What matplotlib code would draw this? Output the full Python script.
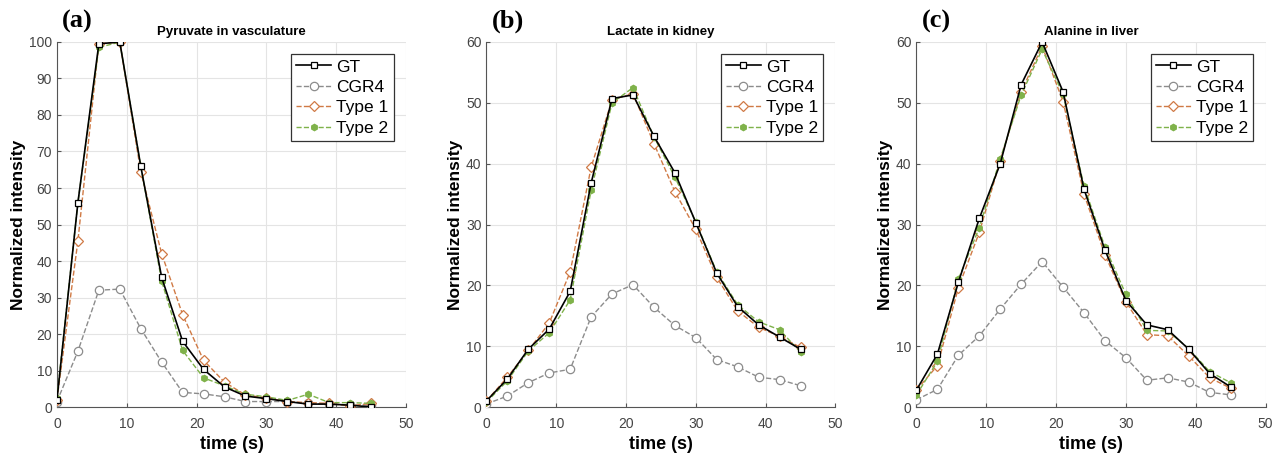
import numpy as np
import matplotlib
matplotlib.use("Agg")
import matplotlib.pyplot as plt

plt.rcParams['font.family'] = ['Liberation Sans', 'DejaVu Sans']

# time axis (s)
time_s = [0, 3, 6, 9, 12, 15, 18, 21, 24, 27, 30, 33, 36, 39, 42, 45]

# (a) pyruvate in vasculature
pyr_gt = [2, 56, 99.5, 100, 66, 35.5, 18, 10.3, 5.5, 3, 2.3, 1.5, 0.8, 0.8, 0.5, 0]
pyr_cgr4 = [1.5, 15.3, 32, 32.3, 21.5, 12.3, 4, 3.6, 2.8, 1.5, 1.5, 1.5, 1, 0.8, 0.5, 0.5]
pyr_type1 = [2, 45.5, 99.5, 100, 64.5, 42, 25.3, 12.8, 6.8, 3.3, 2.5, 1.5, 1.2, 1, 0.3, 1]
pyr_type2 = [2.5, 56, 98.5, 100, 66, 34.5, 15.5, 8, 5.8, 3.5, 2.8, 1.8, 3.5, 1.2, 1.2, 1]

# (b) lactate in kidney
lac_gt = [1, 4.6, 9.5, 12.8, 19, 36.8, 50.7, 51.3, 44.5, 38.5, 30.3, 22, 16.5, 13.5, 11.5, 9.5]
lac_cgr4 = [0.5, 1.8, 4, 5.6, 6.2, 14.8, 18.6, 20.1, 16.4, 13.4, 11.4, 7.8, 6.6, 4.9, 4.5, 3.5]
lac_type1 = [1, 4.9, 9.3, 13.8, 22.2, 39.4, 50.5, 51.5, 43.3, 35.4, 29.2, 21.3, 15.8, 13.1, 11.6, 9.8]
lac_type2 = [0.8, 4.3, 9.2, 12.2, 17.6, 35.6, 50, 52.5, 44.4, 37.8, 30.4, 22.2, 16.8, 14, 12.7, 9]

# (c) alanine in liver
ala_gt = [2.8, 8.7, 20.5, 31, 40, 53, 60, 51.8, 35.8, 25.8, 17.5, 13.5, 12.7, 9.5, 5.5, 3.3]
ala_cgr4 = [1.2, 2.9, 8.5, 11.7, 16.1, 20.2, 23.9, 19.7, 15.5, 10.9, 8.1, 4.4, 4.8, 4.1, 2.4, 2]
ala_type1 = [2.8, 6.8, 19.6, 28.7, 40.5, 51.8, 59.3, 50.2, 35, 25, 17.3, 11.9, 11.7, 8.4, 4.8, 3.1]
ala_type2 = [2, 7.5, 21, 29.5, 40.8, 51.3, 58.8, 51.4, 36.3, 26.3, 18.5, 12.6, 12.5, 9.6, 5.8, 4]

panels = [
    ('(a)', 'Pyruvate in vasculature', 100, pyr_gt, pyr_cgr4, pyr_type1, pyr_type2),
    ('(b)', 'Lactate in kidney', 60, lac_gt, lac_cgr4, lac_type1, lac_type2),
    ('(c)', 'Alanine in liver', 60, ala_gt, ala_cgr4, ala_type1, ala_type2),
]

lefts = [0.0445, 0.380, 0.716]
axis_grey = '#555555'

fig = plt.figure(figsize=(12.8, 4.54), dpi=100)

for left, (tag, title, ymax, gt, cgr4, t1, t2) in zip(lefts, panels):
    ax = fig.add_axes([left, 0.1035, 0.2727, 0.804])
    ax.plot(time_s, gt, '-', color='black', lw=1.2, marker='s', ms=5,
            mfc='white', mec='black', mew=0.9, label='GT', zorder=5)
    ax.plot(time_s, cgr4, '--', color='#8c8c8c', lw=1.0, marker='o', ms=6,
            mfc='white', mec='#8c8c8c', mew=0.9, label='CGR4', zorder=3)
    ax.plot(time_s, t1, '--', color='#d07a45', lw=1.0, marker='D', ms=5,
            mfc='white', mec='#d07a45', mew=0.9, label='Type 1', zorder=4)
    ax.plot(time_s, t2, '--', color='#7fb24a', lw=1.0, marker='h', ms=4.5,
            mfc='#7fb24a', mec='#7fb24a', label='Type 2', zorder=4)

    ax.set_xlim(0, 50)
    ax.set_ylim(0, ymax)
    ax.set_xticks(range(0, 51, 10))
    ax.set_yticks(range(0, ymax + 1, 10))
    ax.grid(True, color='#e4e4e4', lw=0.8)
    ax.set_axisbelow(True)
    for side in ['top', 'right']:
        ax.spines[side].set_visible(False)
    for side in ['left', 'bottom']:
        ax.spines[side].set_color(axis_grey)
        ax.spines[side].set_linewidth(0.8)
    ax.tick_params(direction='in', length=3, colors=axis_grey, labelsize=10,
                   labelcolor='#444444')
    ax.tick_params(axis='x', pad=7)

    ax.set_title(title, fontsize=9.5, fontweight='bold', pad=5)
    ax.set_xlabel('time (s)', fontsize=13, fontweight='bold', labelpad=4)
    ax.set_ylabel('Normalized intensity', fontsize=12.5, fontweight='bold', labelpad=2)

    leg = ax.legend(loc='upper right', fontsize=12.5, fancybox=False, framealpha=1,
                    edgecolor='#333333', borderpad=0.3, labelspacing=0.3,
                    handlelength=2.0, handletextpad=0.3, borderaxespad=0.7)
    leg.get_frame().set_linewidth(0.9)

    ax.text(0.015, 1.025, tag, transform=ax.transAxes, fontsize=19, fontweight='bold',
            family=['Liberation Serif', 'DejaVu Serif'], va='bottom', ha='left')

fig.savefig('out.png', dpi=100)
